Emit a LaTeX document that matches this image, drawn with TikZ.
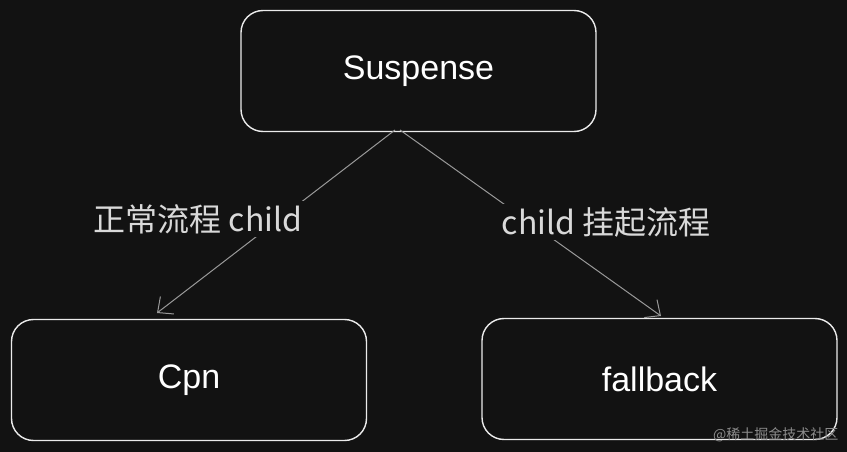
\documentclass[tikz,border=0pt]{standalone}
\usepackage{fontspec}
\setmainfont{Liberation Sans}
\newfontfamily\cjk{Noto Sans CJK SC}
\usetikzlibrary{arrows.meta}
\begin{document}
\begin{tikzpicture}[x=1pt,y=-1pt,
  box/.style={draw=white!92!black,line width=1.4pt,rounded corners=22pt,minimum width=355pt,minimum height=121pt,text=white,font=\fontsize{34}{38}\selectfont},
  conn/.style={draw=white!60!black,line width=1pt,-{Straight Barb[length=12pt,width=22pt]}},
  lab/.style={fill=black!93,text=white!85!black,inner sep=3pt,font=\cjk\fontsize{32}{36}\selectfont}]
\fill[black!93] (0,0) rectangle (847,452);
\useasboundingbox (0,0) rectangle (847,452);
\node[box] (sus) at (418.5,71) {Suspense};
\node[box] (cpn) at (189,380) {Cpn};
\node[box] (fb) at (659.5,379) {fallback};
\coordinate (s1) at (395,130);
\coordinate (s2) at (400,130);
\coordinate (e1) at (157,313);
\coordinate (e2) at (661,316);
\draw[conn] (s1) -- (e1);
\draw[conn] (s2) -- (e2);
\node[lab] (l1) at (198,219) {正常流程 child};
\node[lab] (l2) at (606,222) {child 挂起流程};
\node[text=white!55!black,font=\cjk\fontsize{14}{16}\selectfont,anchor=east] (wm) at (842,435) {@稀土掘金技术社区};
\end{tikzpicture}
\end{document}
